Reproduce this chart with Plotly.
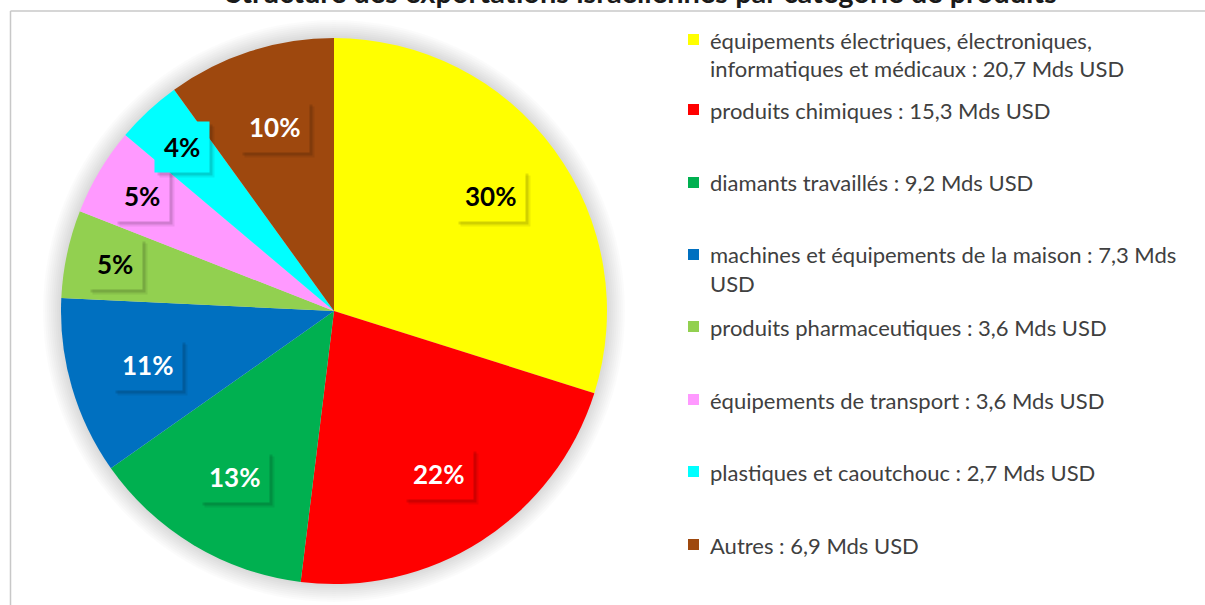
import math
import textwrap
import plotly.graph_objects as go

categories = [
    "équipements électriques, électroniques, informatiques et médicaux",
    "produits chimiques",
    "diamants travaillés",
    "machines et équipements de la maison",
    "produits pharmaceutiques",
    "équipements de transport",
    "plastiques et caoutchouc",
    "Autres",
]
values = [20.7, 15.3, 9.2, 7.3, 3.6, 3.6, 2.7, 6.9]
unit = "Mds USD"
title = "Structure des exportations israéliennes par catégorie de produits"

colors = ["#FFFF00", "#FF0000", "#00B050", "#0070C0", "#92D050", "#FF99FF", "#00FFFF", "#9E480E"]
label_font_colors = ["black", "white", "white", "white", "black", "black", "black", "white"]

W, H = 1205, 605
CX, CY, R = 334, 311, 273  # pie centre / radius in pixels

def px(x):
    return x / W

def py(y):
    return 1 - y / H

fig = go.Figure()
fig.add_trace(go.Pie(
    labels=categories,
    values=values,
    sort=False,
    direction="clockwise",
    rotation=0,
    marker=dict(colors=colors, line=dict(width=0)),
    textinfo="none",
    hovertemplate="%{label} : %{value} " + unit + "<extra></extra>",
    domain=dict(x=[px(CX - R), px(CX + R)], y=[py(CY + R), py(CY - R)]),
    showlegend=False,
))

shapes = []
# soft glow around the pie
for k in range(1, 10):
    rr = R + 2 * k
    shapes.append(dict(type="circle", xref="paper", yref="paper", layer="below",
                       x0=px(CX - rr), x1=px(CX + rr), y0=py(CY + rr), y1=py(CY - rr),
                       fillcolor="rgba(0,0,0,0.016)", line=dict(width=0)))
# chart area border
shapes.append(dict(type="line", xref="paper", yref="paper", x0=px(10.5), x1=px(10.5),
                   y0=py(11), y1=0, line=dict(color="#C8C8C8", width=1.5)))
shapes.append(dict(type="line", xref="paper", yref="paper", x0=px(10.5), x1=1,
                   y0=py(11), y1=py(11), line=dict(color="#C8C8C8", width=1.5)))

annotations = []
total = sum(values)
cum = 0.0
for i, v in enumerate(values):
    pct = v / total * 100
    mid = (cum + v / 2) / total * 2 * math.pi
    cum += v
    frac = 0.71 if round(pct) >= 10 else 0.82
    lx = CX + frac * R * math.sin(mid)
    ly = CY - frac * R * math.cos(mid)
    txt = f"{round(pct)}%"
    # blurred-looking shadow
    for s, a in [(3, 0.12), (5, 0.07)]:
        annotations.append(dict(xref="paper", yref="paper", x=px(lx), y=py(ly),
                                xanchor="center", yanchor="middle", xshift=s, yshift=-s,
                                text=txt, showarrow=False, bgcolor=f"rgba(0,0,0,{a})", borderpad=9,
                                font=dict(family="Lato", size=26, color="rgba(0,0,0,0)", weight="bold")))
    annotations.append(dict(xref="paper", yref="paper", x=px(lx), y=py(ly),
                            xanchor="center", yanchor="middle",
                            text=txt, showarrow=False, bgcolor=colors[i], borderpad=9,
                            font=dict(family="Lato", size=26, color=label_font_colors[i], weight="bold")))

# legend
legend_y = [40, 110, 183, 255, 327, 400, 472, 545]
line_gap = 28
for i, (c, v) in enumerate(zip(categories, values)):
    full = f"{c} : {str(v).replace('.', ',')} {unit}"
    lines = textwrap.wrap(full, width=46)
    y0 = legend_y[i]
    shapes.append(dict(type="rect", xref="paper", yref="paper",
                       x0=px(688), x1=px(699), y0=py(y0 + 5), y1=py(y0 - 6),
                       fillcolor=colors[i], line=dict(width=0)))
    for j, ln in enumerate(lines):
        annotations.append(dict(xref="paper", yref="paper", x=px(708), y=py(y0 + j * line_gap),
                                xanchor="left", yanchor="middle", text=ln, showarrow=False,
                                font=dict(family="Lato", size=22, color="#404040")))

annotations.append(dict(xref="paper", yref="paper", x=px(641), y=py(-8), xanchor="center",
                        yanchor="middle", text=title, showarrow=False,
                        font=dict(family="Lato", size=29, color="#1a1a1a", weight="bold")))

fig.update_layout(
    width=W, height=H,
    margin=dict(l=0, r=0, t=0, b=0),
    paper_bgcolor="white",
    plot_bgcolor="white",
    shapes=shapes,
    annotations=annotations,
)

fig.write_html("out.html")
